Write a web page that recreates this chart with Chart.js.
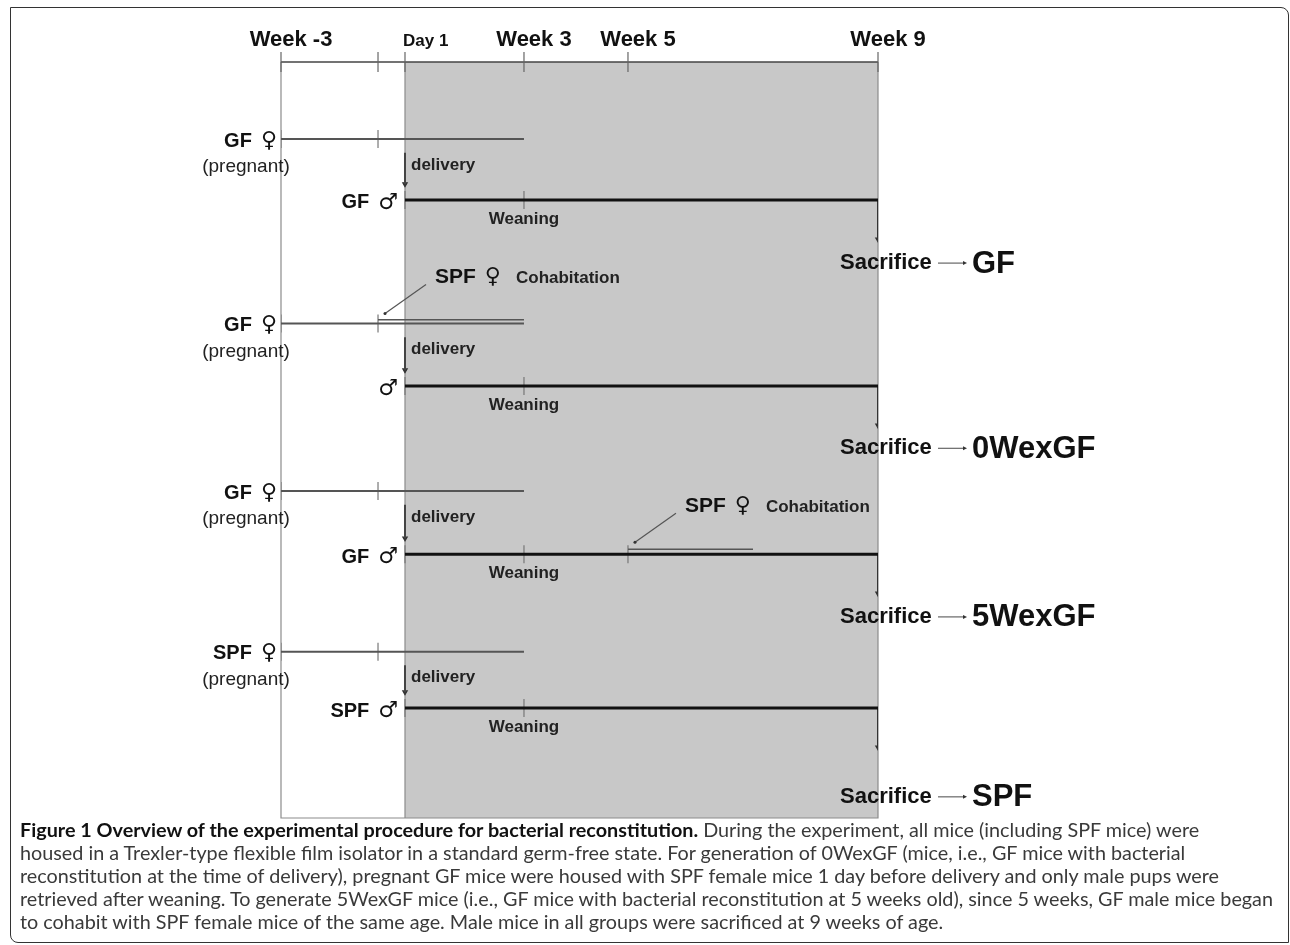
<!DOCTYPE html>
<html>
<head>
<meta charset="utf-8">
<script src="https://cdn.jsdelivr.net/npm/chart.js@4.4.1/dist/chart.umd.min.js"></script>
<style>
    html, body { margin: 0; padding: 0; background: #fff; }
    body { width: 1290px; height: 945px; position: relative; overflow: hidden; }
    #frame {
        position: absolute; left: 10px; top: 7px; right: 1px; bottom: 2px;
        border: 1.5px solid #333; border-radius: 0 8px 0 8px;
    }
    #chart { position: absolute; left: 0; top: 0; }
    #caption {
        position: absolute; left: 20px; top: 818px;
        font-family: Lato, "Open Sans", sans-serif; font-size: 19.8px; line-height: 23px;
        color: #3a3a3a; white-space: nowrap;
    }
    #caption b { color: #111; }
</style>
</head>
<body>
<div id="frame"></div>
<canvas id="chart" width="1290" height="830"></canvas>
<div id="caption">
<b>Figure 1 Overview of the experimental procedure for bacterial reconstitution.</b> During the experiment, all mice (including SPF mice) were<br>
housed in a Trexler-type flexible film isolator in a standard germ-free state. For generation of 0WexGF (mice, i.e., GF mice with bacterial<br>
reconstitution at the time of delivery), pregnant GF mice were housed with SPF female mice 1 day before delivery and only male pups were<br>
retrieved after weaning. To generate 5WexGF mice (i.e., GF mice with bacterial reconstitution at 5 weeks old), since 5 weeks, GF male mice began<br>
to cohabit with SPF female mice of the same age. Male mice in all groups were sacrificed at 9 weeks of age.
</div>
<script>
// time axis, in days from delivery
const tickDays   = [-21, 0, 1, 21, 35, 63];
const tickLabels = ['Week -3', '', 'Day 1', 'Week 3', 'Week 5', 'Week 9'];

// one entry per experimental group
const groupNames   = ['GF', '0WexGF', '5WexGF', 'SPF'];
const motherLabels = ['GF ♀', 'GF ♀', 'GF ♀', 'SPF ♀'];
const pupLabels    = ['GF ♂', '♂', 'GF ♂', 'SPF ♂'];
const motherStart  = [-21, -21, -21, -21];
const motherEnd    = [21, 21, 21, 21];
const deliveryDay  = [1, 1, 1, 1];
const weaningDay   = [21, 21, 21, 21];
const sacrificeDay = [63, 63, 63, 63];
const cohabStart   = [null, 0, 35, null];
const cohabEnd     = [null, 21, 49, null];

// rows on the vertical scale (0 = time axis, 100 = bottom of the panel)
const motherRow  = [10.2, 34.6, 56.75, 78.0];
const pupRow     = [18.25, 42.86, 65.1, 85.45];
const outcomeRow = [26.6, 51.1, 73.4, 97.2];

// the original timeline is hand drawn, so each tick gets its own place along the axis
const tickPlace = [0, 0.1625, 0.2077, 0.4070, 0.5812, 1];

class TimelineScale extends Chart.LinearScale {
    static id = 'timeline';
    static defaults = Chart.LinearScale.defaults;

    getPixelForValue(value) {
        const v = Math.max(tickDays[0], Math.min(tickDays[tickDays.length - 1], value));
        let i = 0;
        while (i < tickDays.length - 2 && v > tickDays[i + 1]) i++;
        const t = (v - tickDays[i]) / (tickDays[i + 1] - tickDays[i]);
        const f = tickPlace[i] + t * (tickPlace[i + 1] - tickPlace[i]);
        return this.left + f * this.width;
    }

    getValueForPixel(pixel) {
        const f = (pixel - this.left) / this.width;
        let i = 0;
        while (i < tickPlace.length - 2 && f > tickPlace[i + 1]) i++;
        const t = (f - tickPlace[i]) / (tickPlace[i + 1] - tickPlace[i]);
        return tickDays[i] + t * (tickDays[i + 1] - tickDays[i]);
    }
}
Chart.register(TimelineScale);

const FONT = '"Liberation Sans", Arial, sans-serif';
const SYMBOL_FONT = 'bold 22px "DejaVu Sans", sans-serif';

function segment(x1, y1, x2, y2, color, width) {
    return {
        data: [{ x: x1, y: y1 }, { x: x2, y: y2 }],
        showLine: true,
        borderColor: color,
        borderWidth: width,
        borderCapStyle: 'butt',
        pointRadius: 0
    };
}

function marks(points, style, color, radius, rotation) {
    return {
        data: points,
        showLine: false,
        pointStyle: style,
        pointRadius: radius,
        pointRotation: rotation,
        borderColor: color,
        backgroundColor: color,
        borderWidth: 1.2
    };
}

const datasets = [];
const tickMarks = [];
const arrowHeads = [];

groupNames.forEach((name, i) => {
    // pregnant mother
    datasets.push(segment(motherStart[i], motherRow[i], motherEnd[i], motherRow[i], '#555', 2));
    tickMarks.push({ x: motherStart[i], y: motherRow[i] }, { x: tickDays[1], y: motherRow[i] });

    // male pups from delivery to sacrifice
    datasets.push(segment(deliveryDay[i], pupRow[i], sacrificeDay[i], pupRow[i], '#111', 3));
    tickMarks.push({ x: deliveryDay[i], y: pupRow[i] }, { x: weaningDay[i], y: pupRow[i] });

    // delivery arrow
    datasets.push(segment(deliveryDay[i], motherRow[i] + 1.8, deliveryDay[i], pupRow[i] - 2.1, '#444', 2));
    arrowHeads.push({ x: deliveryDay[i], y: pupRow[i] - 2.1 });

    // sacrifice arrow
    datasets.push(segment(sacrificeDay[i], pupRow[i], sacrificeDay[i], pupRow[i] + 5.2, '#333', 2));
    arrowHeads.push({ x: sacrificeDay[i], y: pupRow[i] + 5.2 });

    // SPF female cohabitation
    if (cohabStart[i] !== null) {
        const beforeBirth = cohabStart[i] < deliveryDay[i];
        const host = beforeBirth ? motherRow[i] : pupRow[i];
        const row = host - (beforeBirth ? 0.5 : 0.65);
        datasets.push(segment(cohabStart[i], row, cohabEnd[i], row, '#555', 1.5));
        if (!beforeBirth) tickMarks.push({ x: cohabStart[i], y: host });
    }
});

datasets.push(marks(tickMarks, 'line', '#777', 9, 90));
datasets.push(marks(arrowHeads, 'triangle', '#333', 2.5, 180));

function text(ctx, str, x, y, font, align, color) {
    ctx.font = font;
    ctx.textAlign = align;
    ctx.textBaseline = 'middle';
    ctx.fillStyle = color || '#111';
    ctx.fillText(str, x, y);
    return ctx.measureText(str).width;
}

// "GF ♀" style labels: the sex symbol needs a font that has the glyph
function sexLabel(ctx, str, x, y, size, align) {
    const cut = str.lastIndexOf(' ');
    const name = cut < 0 ? '' : str.slice(0, cut);
    const sym = str.slice(cut + 1);
    ctx.font = SYMBOL_FONT;
    const symW = ctx.measureText(sym).width;
    ctx.font = 'bold ' + size + 'px ' + FONT;
    const nameW = name ? ctx.measureText(name).width : 0;
    const gap = name ? 9 : 0;
    const left = align === 'right' ? x - symW - gap - nameW : x;
    if (name) text(ctx, name, left, y, 'bold ' + size + 'px ' + FONT, 'left');
    text(ctx, sym, left + nameW + gap, y, SYMBOL_FONT, 'left');
    return left + nameW + gap + symW;
}

const diagramPlugin = {
    id: 'diagram',
    beforeDatasetsDraw(chart) {
        const { ctx, chartArea: a, scales: { x } } = chart;
        const day1 = x.getPixelForValue(tickDays[2]);
        const end = x.getPixelForValue(tickDays[tickDays.length - 1]);
        ctx.save();
        // isolator period after delivery
        ctx.fillStyle = '#c8c8c8';
        ctx.fillRect(day1, a.top, end - day1, a.bottom - a.top);
        ctx.strokeStyle = '#8c8c8c';
        ctx.lineWidth = 1.2;
        ctx.beginPath();
        ctx.moveTo(a.left, a.top);
        ctx.lineTo(a.left, a.bottom);
        ctx.lineTo(end, a.bottom);
        ctx.lineTo(end, a.top);
        ctx.moveTo(day1, a.top);
        ctx.lineTo(day1, a.bottom);
        ctx.stroke();

        // time axis along the top
        ctx.strokeStyle = '#444';
        ctx.lineWidth = 1.5;
        ctx.beginPath();
        ctx.moveTo(a.left, a.top);
        ctx.lineTo(end, a.top);
        ctx.stroke();
        ctx.strokeStyle = '#666';
        ctx.lineWidth = 1.2;
        tickDays.forEach((d, k) => {
            const px = x.getPixelForValue(d);
            ctx.beginPath();
            ctx.moveTo(px, a.top - 10);
            ctx.lineTo(px, a.top + 10);
            ctx.stroke();
            if (!tickLabels[k]) return;
            if (tickLabels[k].startsWith('Day')) {
                text(ctx, tickLabels[k], px - 2, a.top - 21, 'bold 17px ' + FONT, 'left');
            } else {
                text(ctx, tickLabels[k], px + 10, a.top - 22, 'bold 22px ' + FONT, 'center');
            }
        });
        ctx.restore();
    },
    afterDatasetsDraw(chart) {
        const { ctx, scales: { x, y } } = chart;
        ctx.save();
        groupNames.forEach((name, i) => {
            const left = x.getPixelForValue(motherStart[i]);
            const mY = y.getPixelForValue(motherRow[i]);
            const pY = y.getPixelForValue(pupRow[i]);
            const dX = x.getPixelForValue(deliveryDay[i]);
            const sX = x.getPixelForValue(sacrificeDay[i]);
            const oY = y.getPixelForValue(outcomeRow[i]);

            sexLabel(ctx, motherLabels[i], left - 4, mY + 2, 20, 'right');
            text(ctx, '(pregnant)', left - 35, mY + 28, '19px ' + FONT, 'center', '#222');
            text(ctx, 'delivery', dX + 6, mY + 26, 'bold 17px ' + FONT, 'left', '#222');
            sexLabel(ctx, pupLabels[i], dX - 7, pY + 3, 20, 'right');
            text(ctx, 'Weaning', x.getPixelForValue(weaningDay[i]), pY + 19, 'bold 17px ' + FONT, 'center', '#222');

            // sacrifice -> group
            text(ctx, 'Sacrifice', sX - 38, oY, 'bold 22px ' + FONT, 'left');
            ctx.strokeStyle = '#666';
            ctx.lineWidth = 1.2;
            ctx.beginPath();
            ctx.moveTo(sX + 60, oY);
            ctx.lineTo(sX + 86, oY);
            ctx.stroke();
            ctx.fillStyle = '#333';
            ctx.beginPath();
            ctx.moveTo(sX + 89, oY);
            ctx.lineTo(sX + 85, oY - 2);
            ctx.lineTo(sX + 85, oY + 2);
            ctx.fill();
            text(ctx, name, sX + 94, oY + 1, 'bold 31px ' + FONT, 'left');

            if (cohabStart[i] !== null) {
                const beforeBirth = cohabStart[i] < deliveryDay[i];
                const cX = x.getPixelForValue(cohabStart[i]);
                const cY = beforeBirth ? mY - 3 : pY - 5;
                ctx.strokeStyle = '#555';
                ctx.lineWidth = 1.2;
                ctx.beginPath();
                ctx.moveTo(cX + 48, cY - 36);
                ctx.lineTo(cX + 7, cY - 7);
                ctx.stroke();
                ctx.fillStyle = '#333';
                ctx.beginPath();
                ctx.arc(cX + 7, cY - 7, 1.5, 0, Math.PI * 2);
                ctx.fill();
                const after = sexLabel(ctx, 'SPF ♀', cX + 57, cY - 43, 21, 'left');
                text(ctx, 'Cohabitation', after + 15, cY - 42, 'bold 17px ' + FONT, 'left', '#222');
            }
        });
        ctx.restore();
    }
};

new Chart(document.getElementById('chart').getContext('2d'), {
    type: 'scatter',
    data: { datasets },
    options: {
        responsive: false,
        animation: false,
        events: [],
        layout: { padding: { left: 281, right: 412, top: 62, bottom: 12 } },
        scales: {
            x: { type: 'timeline', min: tickDays[0], max: tickDays[tickDays.length - 1], display: false },
            y: { type: 'linear', min: 0, max: 100, reverse: true, display: false }
        },
        plugins: { legend: { display: false }, tooltip: { enabled: false } }
    },
    plugins: [diagramPlugin]
});
</script>
</body>
</html>
